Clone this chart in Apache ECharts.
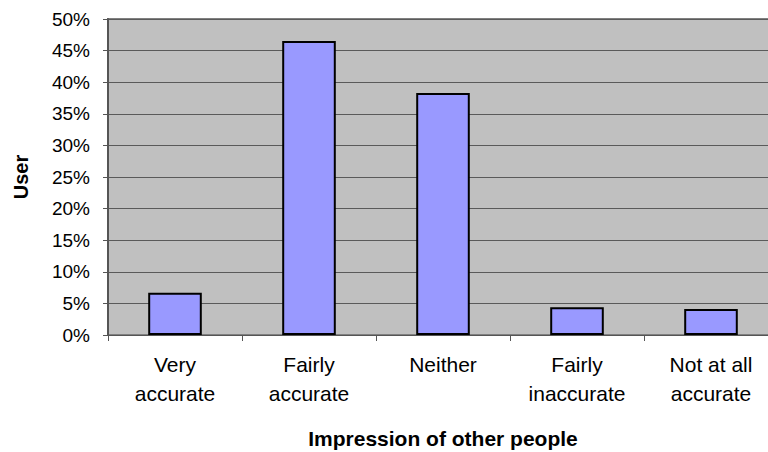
<!DOCTYPE html>
<html>
<head>
<meta charset="utf-8">
<script src="https://cdn.jsdelivr.net/npm/echarts@6/dist/echarts.min.js"></script>
<style>
  html, body { margin: 0; padding: 0; background: #fff; }
  #chart { width: 768px; height: 452px; }
</style>
</head>
<body>
<div id="chart"></div>
<script>
// Impression of other people - share of users
var categories = ['Very\naccurate', 'Fairly\naccurate', 'Neither', 'Fairly\ninaccurate', 'Not at all\naccurate'];
var userShare = [6.7, 46.5, 38.3, 4.4, 4.1];
var yTicks = { min: 0, max: 50, interval: 5 };

(function() {
  var chart = echarts.init(document.getElementById('chart'), null, { renderer: 'svg' });
  var font = 'Arial, "Liberation Sans", sans-serif';
  chart.setOption({
    animation: false,
    grid: {
      left: 108, right: -10, top: 19, bottom: 117,
      outerBoundsMode: 'none', containLabel: false,
      show: true, backgroundColor: '#c0c0c0', borderColor: '#808080', borderWidth: 2
    },
    xAxis: {
      type: 'category',
      data: categories,
      name: 'Impression of other people',
      nameLocation: 'middle',
      nameGap: 93,
      nameTextStyle: { fontFamily: font, fontWeight: 'bold', fontSize: 21, color: '#000' },
      axisLine: { lineStyle: { color: '#555', width: 1 } },
      axisTick: { show: true, length: 6, lineStyle: { color: '#555' } },
      axisLabel: { fontFamily: font, fontSize: 21, color: '#000', margin: 15, lineHeight: 29 }
    },
    yAxis: {
      type: 'value',
      min: yTicks.min,
      max: yTicks.max,
      interval: yTicks.interval,
      name: 'User',
      nameLocation: 'middle',
      nameGap: 77,
      nameTextStyle: { fontFamily: font, fontWeight: 'bold', fontSize: 20, color: '#000' },
      axisLine: { show: true, lineStyle: { color: '#555', width: 2 } },
      axisTick: { show: true, length: 5, lineStyle: { color: '#555' } },
      axisLabel: { fontFamily: font, fontSize: 19, color: '#000', margin: 18, formatter: '{value}%' },
      splitLine: { show: true, lineStyle: { color: '#5a5a5a', width: 1 } }
    },
    series: [{
      type: 'bar',
      data: userShare,
      barWidth: '40%',
      itemStyle: { color: '#9999ff', borderColor: '#000', borderWidth: 2 }
    }]
  });
})();
</script>
</body>
</html>
